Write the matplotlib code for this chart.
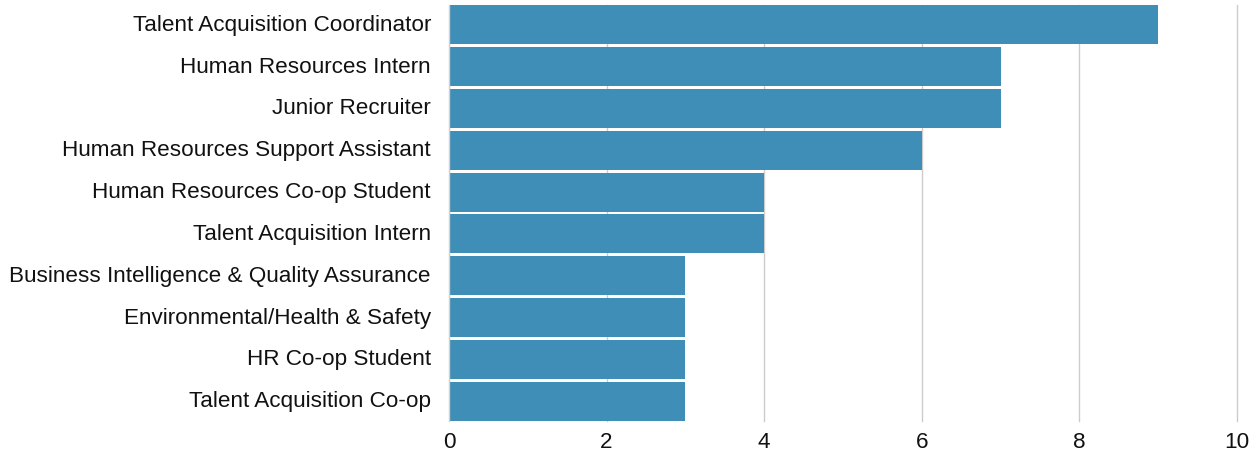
import matplotlib
matplotlib.use("Agg")
import matplotlib.pyplot as plt
from matplotlib.transforms import ScaledTranslation

roles = [
    "Talent Acquisition Coordinator",
    "Human Resources Intern",
    "Junior Recruiter",
    "Human Resources Support Assistant",
    "Human Resources Co-op Student",
    "Talent Acquisition Intern",
    "Business Intelligence & Quality Assurance",
    "Environmental/Health & Safety",
    "HR Co-op Student",
    "Talent Acquisition Co-op",
]
counts = [9, 7, 7, 6, 4, 4, 3, 3, 3, 3]
x_ticks = [0, 2, 4, 6, 8, 10]

plt.rcParams["font.family"] = ["Liberation Sans", "DejaVu Sans"]

fig = plt.figure(figsize=(12.55, 4.53), dpi=100)
ax = fig.add_axes([449 / 1255, 1 - 421 / 453, (1237 - 449) / 1255, (421 - 5) / 453])

ypos = list(range(len(roles)))[::-1]
ax.barh(ypos, counts, height=0.93, color="#3f8eb7", edgecolor="none", zorder=2)

ax.set_xlim(0, 10)
ax.set_ylim(-0.47, len(roles) - 0.53)
ax.set_xticks(x_ticks)
ax.set_xticklabels([str(t) for t in x_ticks])
ax.set_yticks(ypos)
ax.set_yticklabels(roles)

ax.set_axisbelow(True)
ax.grid(axis="x", color="#cccccc", linewidth=1)
ax.grid(axis="y", visible=False)
for gl in ax.get_xgridlines():
    gl.set_clip_on(False)
for s in ax.spines.values():
    s.set_visible(False)
ax.axvline(0, color="#d0d0d0", linewidth=1, zorder=3)

ax.tick_params(axis="both", length=0, labelsize=16.2, colors="#111111")
ax.tick_params(axis="y", pad=13)
ax.tick_params(axis="x", pad=8)

shift_up = ScaledTranslation(0, 2 / 100, fig.dpi_scale_trans)
for lbl in ax.get_yticklabels():
    lbl.set_transform(lbl.get_transform() + shift_up)

fig.savefig("out.png", dpi=100, facecolor="white")
